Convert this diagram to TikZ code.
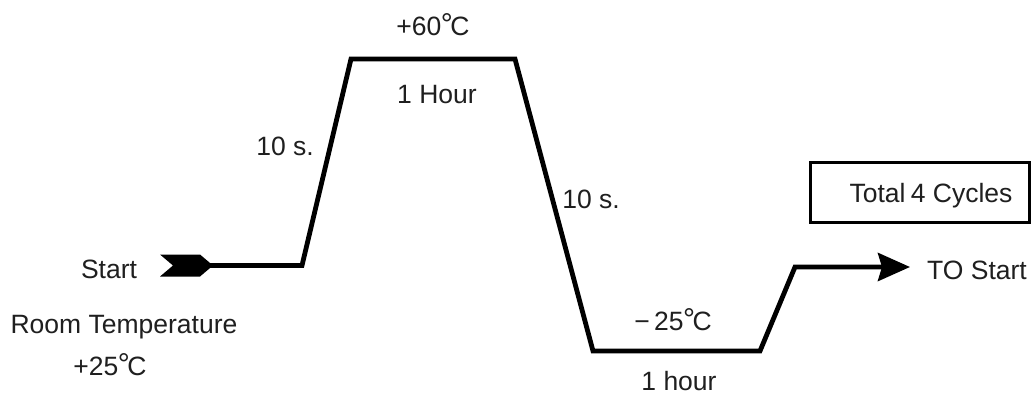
\documentclass[tikz,border=0pt]{standalone}
\usepackage{fontspec}
\setmainfont{Liberation Sans}
\usetikzlibrary{arrows.meta}
\newcommand{\degC}{\kern-0.5pt\raisebox{1pt}{\fontsize{30}{30}\selectfont °}\kern-2.5ptC}
\begin{document}
\begin{tikzpicture}[x=1pt,y=-1pt,
  lbl/.style={font=\fontsize{26.5}{30}\selectfont, inner sep=0pt, anchor=base, text=black!88},
  prof/.style={line width=4.8pt, line join=miter, black},
  boxst/.style={draw=black, line width=3pt, fill=none}
  ]
\useasboundingbox[fill=white] (0,0) rectangle (1032,396);
% profile corners
\coordinate (s0) at (206,265.5);
\coordinate (s1) at (302,265.5);
\coordinate (h0) at (351,59);
\coordinate (h1) at (515,59);
\coordinate (c0) at (593,351);
\coordinate (c1) at (760,351);
\coordinate (e0) at (795,267);
\coordinate (e1) at (910,267);
% start fletching
\fill[black] (160,254.5) -- (200,254.5) -- (213,265.5) -- (200,276.5) -- (160,276.5) -- (173,265.5) -- cycle;
% profile
\draw[prof] (s0) -- (s1) -- (h0) -- (h1) -- (c0) -- (c1) -- (e0)
  -- (e1) [arrows={-Stealth[length=32pt,width=28pt,inset=4pt]}];
% labels
\node[lbl] (start) at (109,278) {Start};
\node[lbl] (hot) at (433,36) {+60\degC};
\node[lbl] (hotT) at (437,103) {1 Hour};
\node[lbl] (up) at (285,155) {10 s.};
\node[lbl] (room) at (124,333) {Room Temperature};
\node[lbl] (rt) at (110,375) {+25\degC};
\node[lbl] (down) at (591,208) {10 s.};
\node[lbl] (cold) at (673,330) {−\,25\degC};
\node[lbl] (coldT) at (679,390) {1 hour};
\node[lbl] (tostart) at (977,279) {TO Start};
\draw[boxst] (810,162) rectangle (1029,222);
\node[lbl] (total) at (931,202) {Total\kern-2pt\ 4 Cycles};
\end{tikzpicture}
\end{document}
